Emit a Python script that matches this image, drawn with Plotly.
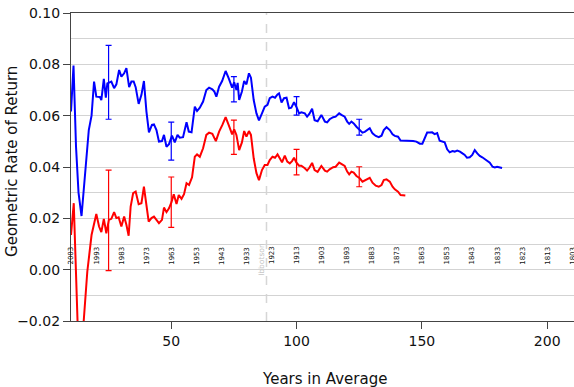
import plotly.graph_objects as go

# ---------------- data ----------------
blue_x = [10, 11, 12, 13, 14.2, 15.8, 17.1, 18.2, 19.2, 20.1, 21.5, 22.1, 23.1, 23.9, 24.5, 26.1, 27.2, 28.1,
          29.2, 30.1, 31.2, 32.1, 33.2, 34.1, 35.0, 35.8, 37.0, 38.1, 39.1, 40.1, 41.1, 42.3, 43.1, 44.1,
          45.1, 46.3, 47.1, 48.1, 49.1, 50.3, 51.4, 52.5, 53.4, 54.7, 56.1, 57.0, 58.1, 59.4, 60.3, 61.4,
          62.7, 64.0, 65.1, 66.4, 67.2, 68.0, 69.1, 70.3, 71.7, 72.9, 74.3, 75.1, 76.0, 76.5, 77.1, 78.2,
          79.1, 80.0, 81.0, 81.8, 82.9, 84.0, 85.0, 86.2, 87.3, 88.4, 89.3, 90.4, 91.4, 92.4, 93.0, 94.0,
          95.0, 96.0, 97.0, 97.9, 99.0, 99.9, 101.0, 101.9, 103.3, 104.2, 105.1, 106.2, 107.2, 108.4,
          109.9, 111.3, 112.2, 113.2, 114.6, 115.6, 117.0, 117.9, 119.2, 120.2, 121.0, 121.9, 122.8,
          123.9, 125.2, 126.3, 127.2, 128.1, 129.2, 130.3, 131.6, 132.8, 133.9, 134.8, 135.9, 137.2,
          138.3, 139.2, 140.5, 141.5, 142.8, 144.1, 145.2, 146.5, 147.8, 149.2, 150.2, 151.2, 152.1,
          153.1, 154.1, 155.1, 156.1, 157.1, 158.2, 159.1, 160.1, 161.1, 162.2, 163.1, 164.1, 165.2,
          166.2, 167.1, 168.0, 169.1, 170.1, 171.1, 172.1, 173.1, 174.1, 175.1, 176.1, 177.1, 178.2,
          179.1, 180.0, 181.1, 182.0]
blue_y = [0.0616, 0.0795, 0.0480, 0.0300, 0.0209, 0.0410, 0.0544, 0.0600, 0.0733, 0.0674, 0.0673, 0.0661,
          0.0743, 0.0670, 0.0726, 0.0733, 0.0707, 0.0722, 0.0778, 0.0752, 0.0765, 0.0785, 0.0711, 0.0733,
          0.0733, 0.0711, 0.0646, 0.0681, 0.0735, 0.0616, 0.0535, 0.0564, 0.0566, 0.0544, 0.0499, 0.0501,
          0.0525, 0.0479, 0.0489, 0.0522, 0.0496, 0.0525, 0.0514, 0.0516, 0.0574, 0.0538, 0.0535, 0.0635,
          0.0618, 0.0631, 0.0655, 0.0700, 0.0709, 0.0703, 0.0694, 0.0674, 0.0713, 0.0735, 0.0774, 0.0746,
          0.0709, 0.0730, 0.0700, 0.0728, 0.0661, 0.0694, 0.0735, 0.0722, 0.0765, 0.0748, 0.0661, 0.0609,
          0.0582, 0.0609, 0.0635, 0.0642, 0.0668, 0.0674, 0.0670, 0.0683, 0.0687, 0.0651, 0.0668, 0.0670,
          0.0629, 0.0631, 0.0652, 0.0635, 0.0609, 0.0613, 0.0609, 0.0596, 0.0607, 0.0627, 0.0582, 0.0578,
          0.0603, 0.0577, 0.0574, 0.0586, 0.0594, 0.0596, 0.0609, 0.0603, 0.0596, 0.0577, 0.0568, 0.0577,
          0.0570, 0.0557, 0.0544, 0.0534, 0.0537, 0.0544, 0.0551, 0.0531, 0.0521, 0.0516, 0.0522, 0.0544,
          0.0555, 0.0544, 0.0527, 0.0521, 0.0518, 0.0503, 0.0503, 0.0503, 0.0502, 0.0501, 0.0499, 0.0491,
          0.0491, 0.0512, 0.0534, 0.0534, 0.0535, 0.0528, 0.0532, 0.0502, 0.0499, 0.0496, 0.0469, 0.0457,
          0.0462, 0.0460, 0.0464, 0.0460, 0.0453, 0.0447, 0.0436, 0.0438, 0.0447, 0.0466, 0.0453, 0.0443,
          0.0438, 0.0430, 0.0424, 0.0417, 0.0401, 0.0398, 0.0401, 0.0397, 0.0396]

red_x = [10, 11.1, 13, 14, 15.1, 16.5, 18.2, 19.2, 20.1, 21.2, 22.1, 23.1, 24.1, 25.1, 26.1, 27.2, 28.1,
         29.0, 30.1, 31.2, 32.1, 33.0, 33.8, 34.8, 35.8, 37.0, 38.1, 39.1, 40.1, 41.0, 42.1, 43.1, 44.1,
         45.1, 46.3, 47.1, 48.1, 49.1, 50.1, 51.0, 52.1, 53.0, 54.1, 55.1, 56.1, 57.1, 58.3, 59.4, 60.3,
         61.4, 62.7, 64.0, 65.1, 66.4, 67.8, 69.1, 70.4, 71.7, 72.9, 74.3, 75.1, 76.0, 77.1, 78.2, 79.1,
         80.0, 81.0, 81.8, 82.9, 84.0, 85.0, 86.2, 87.3, 88.4, 89.3, 90.4, 91.4, 92.4, 93.3, 94.2, 95.3,
         96.3, 97.3, 98.2, 99.0, 99.9, 101.0, 101.9, 103.3, 104.2, 105.1, 106.2, 107.2, 108.4, 109.9,
         111.3, 112.2, 113.2, 114.6, 115.6, 117.0, 117.9, 119.2, 120.2, 121.0, 121.9, 122.8, 123.9,
         125.2, 126.3, 127.2, 128.1, 129.2, 130.3, 131.6, 132.8, 133.9, 134.8, 135.9, 137.2, 138.3,
         139.2, 140.5, 141.5, 142.8, 143.4]
red_y = [0.0135, 0.0259, -0.0320, -0.0310, -0.0196, -0.0008, 0.0135, 0.0177, 0.0217, 0.0168, 0.0146,
         0.0198, 0.0142, 0.0194, 0.0198, 0.0224, 0.0201, 0.0204, 0.0168, 0.0207, 0.0175, 0.0132, 0.0246,
         0.0298, 0.0304, 0.0255, 0.0259, 0.0323, 0.0246, 0.0187, 0.0201, 0.0207, 0.0194, 0.0181, 0.0194,
         0.0242, 0.0224, 0.0239, 0.0263, 0.0294, 0.0256, 0.0291, 0.0276, 0.0294, 0.0337, 0.0330, 0.0360,
         0.0440, 0.0449, 0.0440, 0.0473, 0.0525, 0.0534, 0.0529, 0.0501, 0.0538, 0.0564, 0.0594, 0.0564,
         0.0527, 0.0547, 0.0525, 0.0466, 0.0496, 0.0540, 0.0518, 0.0540, 0.0525, 0.0434, 0.0376, 0.0349,
         0.0388, 0.0408, 0.0408, 0.0427, 0.0440, 0.0436, 0.0449, 0.0434, 0.0418, 0.0444, 0.0421, 0.0414,
         0.0423, 0.0436, 0.0418, 0.0405, 0.0405, 0.0395, 0.0386, 0.0397, 0.0416, 0.0388, 0.0381, 0.0404,
         0.0386, 0.0382, 0.0391, 0.0399, 0.0401, 0.0417, 0.0412, 0.0404, 0.0382, 0.0371, 0.0382, 0.0378,
         0.0365, 0.0356, 0.0343, 0.0347, 0.0353, 0.0358, 0.0339, 0.0327, 0.0323, 0.0330, 0.0349, 0.0352,
         0.0343, 0.0323, 0.0313, 0.0304, 0.0291, 0.0289, 0.0289]

err_x = [25, 50, 75, 100, 125]
blue_err_mid = [0.0730, 0.0501, 0.0703, 0.0638, 0.0555]
blue_err_half = [0.0144, 0.0074, 0.0049, 0.0036, 0.0031]
red_err_mid = [0.0192, 0.0263, 0.0516, 0.0419, 0.0362]
red_err_half = [0.0196, 0.0098, 0.0067, 0.0050, 0.0039]

start_year_x = list(range(10, 211, 10))
start_year_labels = [str(2013 - v) for v in start_year_x]
ibbotson_x = 88

x_ticks = [50, 100, 150, 200]
y_ticks = [-0.02, 0.0, 0.02, 0.04, 0.06, 0.08, 0.10]

FONT = "DejaVu Sans"
BLUE = "#0000ff"
RED = "#ff0000"

fig = go.Figure()
fig.add_trace(go.Scatter(x=blue_x, y=blue_y, mode="lines", line=dict(color=BLUE, width=2), showlegend=False))
fig.add_trace(go.Scatter(x=red_x, y=red_y, mode="lines", line=dict(color=RED, width=2), showlegend=False))
fig.add_trace(go.Scatter(x=err_x, y=blue_err_mid, mode="markers", marker=dict(size=0.1, color=BLUE, opacity=0),
                         error_y=dict(type="data", array=blue_err_half, color=BLUE, thickness=1.2, width=3),
                         showlegend=False))
fig.add_trace(go.Scatter(x=err_x, y=red_err_mid, mode="markers", marker=dict(size=0.1, color=RED, opacity=0),
                         error_y=dict(type="data", array=red_err_half, color=RED, thickness=1.2, width=3),
                         showlegend=False))

fig.add_shape(type="line", x0=ibbotson_x, x1=ibbotson_x, y0=0, y1=1, xref="x", yref="paper",
              line=dict(color="#d6d6d6", width=1.5, dash="dash"), layer="below")

annotations = []
for xv, lab in zip(start_year_x, start_year_labels):
    annotations.append(dict(x=xv, y=0.0055, xref="x", yref="y", text=lab, textangle=-90, showarrow=False,
                            font=dict(family=FONT, size=7, color="#111111"), xanchor="center", yanchor="middle"))
annotations.append(dict(x=ibbotson_x - 1.8, y=0.0042, xref="x", yref="y", text="Ibbotson", textangle=-90,
                        showarrow=False, font=dict(family=FONT, size=7.5, color="#c4c4c4"),
                        xanchor="center", yanchor="middle"))
annotations.append(dict(x=-0.1163, y=0.518, xref="paper", yref="paper", text="Geometric Rate of Return",
                        textangle=-90, showarrow=False, font=dict(family=FONT, size=15, color="#111111"),
                        xanchor="center", yanchor="middle"))
annotations.append(dict(x=0.503, y=-0.188, xref="paper", yref="paper", text="Years in Average",
                        showarrow=False, font=dict(family=FONT, size=15, color="#111111"),
                        xanchor="center", yanchor="middle"))

fig.update_layout(
    width=574, height=387,
    margin=dict(l=71, r=0, t=13, b=66),
    paper_bgcolor="white", plot_bgcolor="white",
    font=dict(family=FONT, size=14, color="#111111"),
    annotations=annotations,
    showlegend=False,
)
fig.update_xaxes(range=[10, 210.7], tickvals=x_ticks, ticks="outside", ticklen=7, tickcolor="#444444",
                 showline=True, linecolor="#444444", linewidth=1.3, mirror=True, showgrid=False,
                 zeroline=False, tickfont=dict(family=FONT, size=14, color="#111111"))
fig.update_yaxes(range=[-0.02, 0.10], tickvals=y_ticks, tickformat=".2f", ticks="outside", ticklen=7,
                 tickcolor="#444444", showline=True, linecolor="#444444", linewidth=1.3,
                 showgrid=True, gridcolor="#d3d3d3", gridwidth=1,
                 minor=dict(dtick=0.01, tick0=0, showgrid=True, gridcolor="#d3d3d3", gridwidth=1, ticks=""),
                 zeroline=False, tickfont=dict(family=FONT, size=14, color="#111111"))

fig.write_html("out.html")
